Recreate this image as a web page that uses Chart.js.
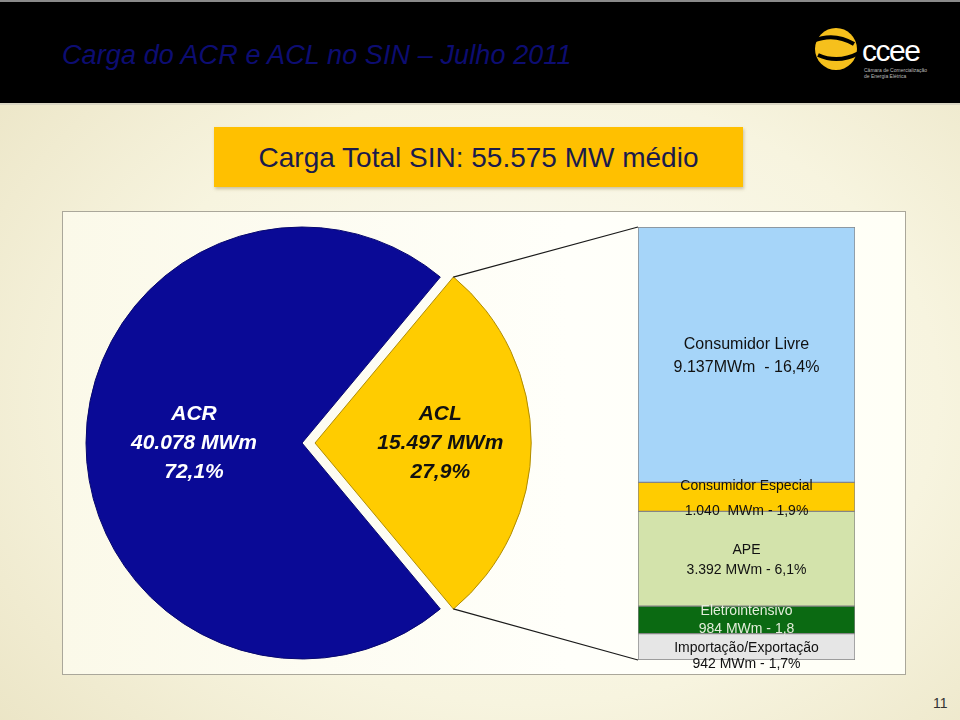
<!DOCTYPE html>
<html>
<head>
<meta charset="utf-8">
<script src="https://cdn.jsdelivr.net/npm/chart.js@4"></script>
<style>
  html, body { margin: 0; padding: 0; }
  body {
    width: 960px; height: 720px; position: relative; overflow: hidden;
    font-family: "Liberation Sans", Arial, sans-serif;
    background: radial-gradient(ellipse at 55% 55%, #fdfcf3 0%, #f7f4df 55%, #e9e2c1 100%);
  }
  #header {
    position: absolute; left: 0; top: 0; width: 960px; height: 105px;
    background: #000; box-sizing: border-box;
    border-top: 2px solid #8a8a8a; border-bottom: 2px solid #d9d5c2;
  }
  #title {
    position: absolute; left: 62px; top: 38px;
    font-style: italic; font-size: 27px; color: #0d0d72; letter-spacing: 0.1px;
  }
  #logo { position: absolute; left: 812px; top: 22px; }
  #total {
    position: absolute; left: 214px; top: 127px; width: 529px; height: 60px;
    background: #ffc000; box-shadow: 1px 2px 3px rgba(120, 100, 40, 0.35);
    color: #1b1b4b; font-size: 28px; line-height: 62px; text-align: center;
  }
  #box {
    position: absolute; left: 62px; top: 211px; width: 844px; height: 464px;
    box-sizing: border-box; border: 1px solid #aaa79a;
    background: linear-gradient(to right, #fbf9e9, #fffffa 60%, #fffff6);
  }
  .layer { position: absolute; left: 62px; top: 211px; width: 844px; height: 464px; }
  #page { position: absolute; left: 933px; top: 695px; font-size: 14px; color: #333; }
</style>
</head>
<body>
<div id="header">
  <div id="title">Carga do ACR e ACL no SIN – Julho 2011</div>
  <svg id="logo" width="120" height="62" viewBox="0 0 120 62">
    <circle cx="24" cy="25" r="21" fill="#f6c01c"/>
    <path d="M1,17 Q22,8 42,20" stroke="#000" stroke-width="4" fill="none"/>
    <path d="M6,31 Q26,40 47,29" stroke="#000" stroke-width="4" fill="none"/>
    <text x="50" y="37" fill="#fff" font-size="30" font-family="Liberation Sans, Arial" letter-spacing="-1.5">ccee</text>
    <text x="52" y="48" fill="#bbb" font-size="5" font-family="Liberation Sans, Arial">Câmara de Comercialização</text>
    <text x="52" y="54" fill="#bbb" font-size="5" font-family="Liberation Sans, Arial">de Energia Elétrica</text>
  </svg>
</div>
<div id="total">Carga Total SIN: 55.575 MW médio</div>
<div id="box"></div>
<div class="layer"><canvas id="pie"></canvas></div>
<div class="layer"><canvas id="bar"></canvas></div>
<div id="page">11</div>

<script>
// pie: ACR x ACL (MW médio)
const pieLabels = ['ACR', 'ACL'];
const pieValues = [40078, 15497];
const pieValueText = ['40.078 MWm', '15.497 MWm'];
const piePercentText = ['72,1%', '27,9%'];

// breakdown of ACL, top to bottom
const aclLabels = ['Consumidor Livre', 'Consumidor Especial', 'APE', 'Eletrointensivo', 'Importação/Exportação'];
const aclValues = [9137, 1040, 3392, 984, 942];
const aclValueText = ['9.137MWm  - 16,4%', '1.040  MWm - 1,9%', '3.392 MWm - 6,1%', '984 MWm - 1,8', '942 MWm - 1,7%'];

const pieColors = ['#0a0a96', '#ffcc00'];
const pieBorders = ['#07076e', '#b08c00'];
const barColors = ['#a6d5f9', '#ffcc00', '#d3e3ab', '#0b6a12', '#e6e6e6'];
const FONT = '"Liberation Sans", Arial, sans-serif';

const pieTextPlugin = {
  id: 'pieText',
  afterDatasetsDraw(chart) {
    const ctx = chart.ctx;
    const arcs = chart.getDatasetMeta(0).data;
    const textColors = ['#ffffff', '#111111'];
    const radiusRatio = [0.5, 0.58];
    ctx.save();
    ctx.textAlign = 'center';
    ctx.textBaseline = 'middle';
    ctx.font = 'italic bold 21px ' + FONT;
    arcs.forEach((arc, i) => {
      const off = (arc.options.offset || 0) / 4;
      const mid = (arc.startAngle + arc.endAngle) / 2;
      const r = arc.outerRadius * radiusRatio[i] + off;
      const x = arc.x + Math.cos(mid) * r;
      const y = arc.y + Math.sin(mid) * r;
      ctx.fillStyle = textColors[i];
      [pieLabels[i], pieValueText[i], piePercentText[i]].forEach((t, k) => {
        ctx.fillText(t, x, y + (k - 1) * 29);
      });
    });
    ctx.restore();
  }
};

const pieTotal = pieValues.reduce((a, b) => a + b, 0);
const aclShare = pieValues[1] / pieTotal * 360;

const pieChart = new Chart(document.getElementById('pie'), {
  type: 'pie',
  data: {
    labels: pieLabels,
    datasets: [{
      data: pieValues,
      backgroundColor: pieColors,
      borderColor: pieBorders,
      borderWidth: 1,
      offset: [0, 52],
      radius: 216
    }]
  },
  options: {
    responsive: true,
    maintainAspectRatio: false,
    animation: false,
    events: [],
    rotation: 90 + aclShare / 2,
    layout: { padding: { left: 0, right: 364, top: 0, bottom: 0 } },
    plugins: { legend: { display: false }, tooltip: { enabled: false } }
  },
  plugins: [pieTextPlugin]
});

const barStyle = [
  { color: '#111', size: 16, gap: 23, shift: 1 },
  { color: '#111', size: 14, gap: 25, shift: 2 },
  { color: '#111', size: 14, gap: 20, shift: 1 },
  { color: '#e4eedb', size: 14, gap: 18, shift: 0 },
  { color: '#111', size: 14, gap: 16, shift: 9 }
];

const connectorPlugin = {
  id: 'connector',
  beforeDatasetsDraw(chart) {
    const arc = pieChart.getDatasetMeta(0).data[1];
    const off = (arc.options.offset || 0) / 4;
    const mid = (arc.startAngle + arc.endAngle) / 2;
    const cx = arc.x + Math.cos(mid) * off;
    const cy = arc.y + Math.sin(mid) * off;
    const r = arc.outerRadius;
    const metas = chart.getSortedVisibleDatasetMetas();
    const bottomEl = metas[0].data[0];
    const topEl = metas[metas.length - 1].data[0];
    const ctx = chart.ctx;
    ctx.save();
    ctx.strokeStyle = '#1a1a1a';
    ctx.lineWidth = 1.2;
    ctx.beginPath();
    ctx.moveTo(cx + Math.cos(arc.startAngle) * r, cy + Math.sin(arc.startAngle) * r);
    ctx.lineTo(topEl.x - topEl.width / 2, topEl.y);
    ctx.moveTo(cx + Math.cos(arc.endAngle) * r, cy + Math.sin(arc.endAngle) * r);
    ctx.lineTo(bottomEl.x - bottomEl.width / 2, bottomEl.base);
    ctx.stroke();
    ctx.restore();
  },
  afterDatasetsDraw(chart) {
    const ctx = chart.ctx;
    ctx.save();
    ctx.textAlign = 'center';
    ctx.textBaseline = 'middle';
    chart.data.datasets.forEach((ds, di) => {
      const el = chart.getDatasetMeta(di).data[0];
      const i = ds.srcIndex;
      const st = barStyle[i];
      const cy = (el.y + el.base) / 2 + st.shift;
      ctx.font = st.size + 'px ' + FONT;
      ctx.fillStyle = st.color;
      ctx.fillText(aclLabels[i], el.x, cy - st.gap / 2);
      ctx.fillText(aclValueText[i], el.x, cy + st.gap / 2);
    });
    ctx.restore();
  }
};

// stacked from the bottom up, so reverse the top-to-bottom order
const barDatasets = aclLabels.map((name, i) => ({
  label: name,
  srcIndex: i,
  data: [aclValues[i]],
  backgroundColor: barColors[i],
  borderColor: '#858585',
  borderWidth: 1,
  borderSkipped: false
})).reverse();

const aclTotal = aclValues.reduce((a, b) => a + b, 0);

new Chart(document.getElementById('bar'), {
  type: 'bar',
  data: { labels: ['ACL'], datasets: barDatasets },
  options: {
    responsive: true,
    maintainAspectRatio: false,
    animation: false,
    events: [],
    barPercentage: 1,
    categoryPercentage: 1,
    layout: { padding: { left: 576, right: 51, top: 16, bottom: 15 } },
    scales: {
      x: { stacked: true, display: false },
      y: { stacked: true, display: false, min: 0, max: aclTotal }
    },
    plugins: { legend: { display: false }, tooltip: { enabled: false } }
  },
  plugins: [connectorPlugin]
});
</script>
</body>
</html>
